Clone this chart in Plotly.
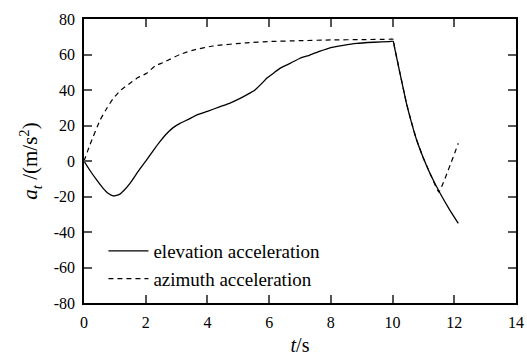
import plotly.graph_objects as go

# Data
t_elev = [0, 0.2, 0.41, 0.6, 0.78, 0.95, 1.15, 1.3, 1.49, 1.75, 2.03, 2.25, 2.46, 2.7, 2.89,
          3.11, 3.4, 3.65, 4.0, 4.41, 4.75, 5.06, 5.3, 5.54, 5.75, 5.92, 6.15, 6.35, 6.68,
          7.0, 7.32, 7.65, 7.97, 8.4, 8.84, 9.4, 9.9, 10.02, 10.06, 10.24, 10.45, 10.6, 10.78,
          11.0, 11.21, 11.54, 11.85, 12.13]
a_elev = [0, -5.5, -10.7, -15, -18.2, -19.7, -18.8, -16.5, -12.6, -6, 0.6, 6, 10.9, 15.8, 18.8,
          21.2, 23.6, 25.9, 28, 30.6, 32.8, 35.3, 37.5, 40, 43.5, 46.6, 49.6, 52.2, 55,
          57.9, 59.7, 61.9, 63.8, 65.2, 66.3, 66.9, 67.3, 67.4, 64.3, 49.4, 32.5, 22.5, 11.8,
          1.5, -6.9, -18.2, -27.5, -35.1]

t_azim = [0, 0.19, 0.52, 0.75, 0.95, 1.2, 1.49, 1.75, 2.03, 2.3, 2.57, 3.11, 3.54, 4.19,
          5.27, 6.0, 7.0, 8.0, 9.0, 9.9, 10.02, 10.06, 10.24, 10.45, 10.6, 10.78, 11.0, 11.21,
          11.45, 11.5, 12.13]
a_azim = [0, 9, 23, 30, 35.3, 40, 43.8, 47, 49.4, 53.5, 55.5, 60, 62.5, 64.8,
          66.6, 67.3, 67.8, 68.2, 68.4, 68.6, 68.6, 64.4, 49.5, 32.6, 22.6, 11.9, 1.6, -6.8,
          -16.2, -17.5, 10]

x_ticks = [0, 2, 4, 6, 8, 10, 12, 14]
y_ticks = [-80, -60, -40, -20, 0, 20, 40, 60, 80]

FONT = "Liberation Serif, Times New Roman, DejaVu Serif, serif"

fig = go.Figure()
fig.add_trace(go.Scatter(x=t_elev, y=a_elev, mode="lines", name="elevation acceleration",
                         line=dict(color="black", width=1.3, shape="spline", smoothing=0.5)))
fig.add_trace(go.Scatter(x=t_azim, y=a_azim, mode="lines", name="azimuth acceleration",
                         line=dict(color="black", width=1.2, dash="5px,4px",
                                   shape="spline", smoothing=0.5)))

axis_common = dict(showgrid=False, zeroline=False, showline=True, linecolor="black",
                   linewidth=1.5, mirror="ticks", ticks="inside", ticklen=8,
                   tickcolor="#555", tickwidth=1.5, automargin=False,
                   ticklabelstandoff=4,
                   tickfont=dict(family=FONT, size=16, color="black"))

fig.update_xaxes(range=[0, 14], tickvals=x_ticks, ticktext=[str(v) for v in x_ticks],
                 title=dict(text="<i>t</i>/s", font=dict(family=FONT, size=20, color="black"),
                            standoff=10),
                 **axis_common)
fig.update_yaxes(range=[-80, 80], tickvals=y_ticks, ticktext=[str(v) for v in y_ticks],
                 title=dict(text="<i>a</i><sub><i>t</i></sub> /(m/s<sup>2</sup>)",
                            font=dict(family=FONT, size=21, color="black"), standoff=10),
                 **axis_common)

fig.update_layout(
    width=527, height=356,
    margin=dict(l=84, r=11, t=19, b=53),
    paper_bgcolor="white", plot_bgcolor="white",
    font=dict(family=FONT, color="black"),
    showlegend=True,
    legend=dict(x=0.045, y=0.25, xanchor="left", yanchor="top",
                bgcolor="rgba(0,0,0,0)", font=dict(family=FONT, size=19, color="black"),
                itemwidth=40, tracegroupgap=0),
)

fig.write_html("out.html")
